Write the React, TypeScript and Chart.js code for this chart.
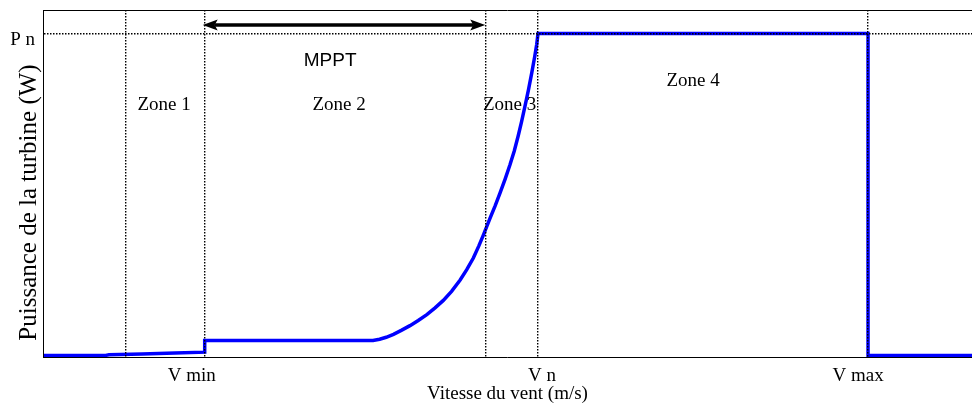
import React, { useEffect, useRef } from "react";
import { Chart, registerables } from "chart.js";

Chart.register(...registerables);

// Wind speed (axis units) and turbine power (relative, P n = 1)
const windSpeed = [
  0, 1.9, 2.0, 3.0, 4.0, 4.9, 4.9, 10.0, 10.2, 10.4, 10.62, 10.87, 11.12, 11.37, 11.63, 11.88,
  12.13, 12.38, 12.64, 12.84, 13.04, 13.2, 13.34, 13.55, 13.7, 13.85, 14.0, 14.15, 14.28, 14.4,
  14.5, 14.6, 14.71, 14.81, 14.9, 14.96, 15.0, 25.0, 25.0, 28.15,
];
const turbinePower = [
  0.005, 0.005, 0.007, 0.009, 0.012, 0.015, 0.051, 0.051, 0.055, 0.061, 0.07, 0.083, 0.097, 0.113, 0.131, 0.152,
  0.175, 0.203, 0.238, 0.27, 0.306, 0.342, 0.376, 0.43, 0.467, 0.507, 0.549, 0.594, 0.637, 0.684,
  0.727, 0.773, 0.826, 0.878, 0.929, 0.966, 1.0, 1.0, 0.005, 0.005,
];

const zoneBoundaries = [2.5, 4.9, 13.4, 15, 25];
const xTickValues = [4.9, 15, 25];
const xTickLabels = ["V min", "V n", "V max"];
const yTickValues = [1];
const yTickLabels = ["P n"];
const zoneNames = ["Zone 1", "Zone 2", "Zone 3", "Zone 4"];
const zoneNameX = [3.67, 8.97, 14.14, 19.7];
const zoneNameY = [0.764, 0.764, 0.764, 0.838];
const mpptLabel = "MPPT";
const mpptRange = [4.9, 13.4];
const mpptLabelPos = [8.7, 0.9];
const mpptArrowLevel = 1.026;

const xAxisTitle = "Vitesse du vent (m/s)";
const yAxisTitle = "Puissance de la turbine (W)";

const X_MAX = 28.15;
const Y_MAX = 1.0726;

const SERIF = "'Liberation Serif', 'Times New Roman', Times, serif";
const SANS = "'Liberation Sans', Arial, Helvetica, sans-serif";

const xLabelNudge = [-13, 4, -10];

const annotationPlugin = {
  id: "annotations",
  afterDraw(chart: any) {
    const { ctx, chartArea, scales } = chart;
    const xs = scales.x;
    const ys = scales.y;
    ctx.save();
    // top frame line
    ctx.strokeStyle = "#000";
    ctx.lineWidth = 1;
    ctx.beginPath();
    ctx.moveTo(chartArea.left, chartArea.top + 0.5);
    ctx.lineTo(chartArea.right, chartArea.top + 0.5);
    ctx.stroke();

    ctx.fillStyle = "#000";
    ctx.textAlign = "center";
    ctx.textBaseline = "alphabetic";
    ctx.font = `19px ${SERIF}`;
    zoneNames.forEach((t, i) => {
      ctx.fillText(t, xs.getPixelForValue(zoneNameX[i]), ys.getPixelForValue(zoneNameY[i]));
    });
    xTickLabels.forEach((t, i) => {
      ctx.fillText(t, xs.getPixelForValue(xTickValues[i]) + xLabelNudge[i], chartArea.bottom + 24);
    });

    // y title
    ctx.save();
    ctx.translate(29, (chartArea.top + chartArea.bottom) / 2 + 19);
    ctx.rotate(-Math.PI / 2);
    ctx.font = `25px ${SERIF}`;
    ctx.textBaseline = "middle";
    ctx.fillText(yAxisTitle, 0, 0);
    ctx.restore();

    // MPPT
    ctx.font = `19px ${SANS}`;
    ctx.fillText(mpptLabel, xs.getPixelForValue(mpptLabelPos[0]), ys.getPixelForValue(mpptLabelPos[1]));

    // double arrow
    const x1 = xs.getPixelForValue(mpptRange[0]) - 2;
    const x2 = xs.getPixelForValue(mpptRange[1]);
    const ay = ys.getPixelForValue(mpptArrowLevel);
    const head = 15;
    const hw = 5.5;
    ctx.lineWidth = 3.5;
    ctx.beginPath();
    ctx.moveTo(x1 + head - 3, ay);
    ctx.lineTo(x2 - head + 3, ay);
    ctx.stroke();
    ctx.beginPath();
    ctx.moveTo(x1, ay);
    ctx.lineTo(x1 + head, ay - hw);
    ctx.lineTo(x1 + head - 3, ay);
    ctx.lineTo(x1 + head, ay + hw);
    ctx.closePath();
    ctx.fill();
    ctx.beginPath();
    ctx.moveTo(x2, ay);
    ctx.lineTo(x2 - head, ay - hw);
    ctx.lineTo(x2 - head + 3, ay);
    ctx.lineTo(x2 - head, ay + hw);
    ctx.closePath();
    ctx.fill();
    ctx.restore();
  },
};

export default function App() {
  const ref = useRef<HTMLCanvasElement>(null);
  useEffect(() => {
    const chart = new Chart(ref.current as HTMLCanvasElement, {
      type: "line",
      data: {
        datasets: [
          {
            data: windSpeed.map((v, i) => ({ x: v, y: turbinePower[i] })),
            borderColor: "#0000ff",
            borderWidth: 3.5,
            pointRadius: 0,
            tension: 0,
            fill: false,
            borderJoinStyle: "miter",
          },
        ],
      },
      options: {
        responsive: false,
        animation: false,
        layout: { padding: { top: 10, left: 0, right: 0, bottom: 0 } },
        plugins: { legend: { display: false }, tooltip: { enabled: false } },
        scales: {
          x: {
            type: "linear",
            min: 0,
            max: X_MAX,
            afterBuildTicks: (s: any) => {
              s.ticks = zoneBoundaries.map((v) => ({ value: v }));
            },
            afterFit: (s: any) => {
              s.height = 48;
              s.paddingLeft = 0;
              s.paddingRight = 0;
            },
            ticks: { display: false },
            grid: { color: "#000", lineWidth: 1.4, drawTicks: false, z: 1 },
            border: { display: true, color: "#000", width: 1, dash: [1.5, 1.5], z: 1 },
            title: {
              display: true,
              text: xAxisTitle,
              color: "#000",
              font: { family: SERIF, size: 19 },
              padding: { top: 0, bottom: 0 },
            },
          },
          y: {
            type: "linear",
            min: 0,
            max: Y_MAX,
            afterBuildTicks: (s: any) => {
              s.ticks = yTickValues.map((v) => ({ value: v }));
            },
            afterFit: (s: any) => {
              s.width = 43;
              s.paddingTop = 0;
              s.paddingBottom = 0;
            },
            ticks: {
              callback: (v: any) => {
                const i = yTickValues.indexOf(Number(v));
                return i >= 0 ? yTickLabels[i] : "";
              },
              color: "#000",
              font: { family: SERIF, size: 19 },
              padding: 8,
              labelOffset: 7,
            },
            grid: { color: "#000", lineWidth: 1.4, drawTicks: false, z: 1 },
            border: { display: true, color: "#000", width: 1, dash: [1.5, 1.5], z: 1 },
          },
        },
      },
      plugins: [annotationPlugin],
    } as any);
    return () => chart.destroy();
  }, []);
  return (
    <div style={{ position: "fixed", left: 0, top: 0, width: 972, height: 405, background: "#fff" }}>
      <canvas ref={ref} width={972} height={405} style={{ display: "block" }} />
    </div>
  );
}
